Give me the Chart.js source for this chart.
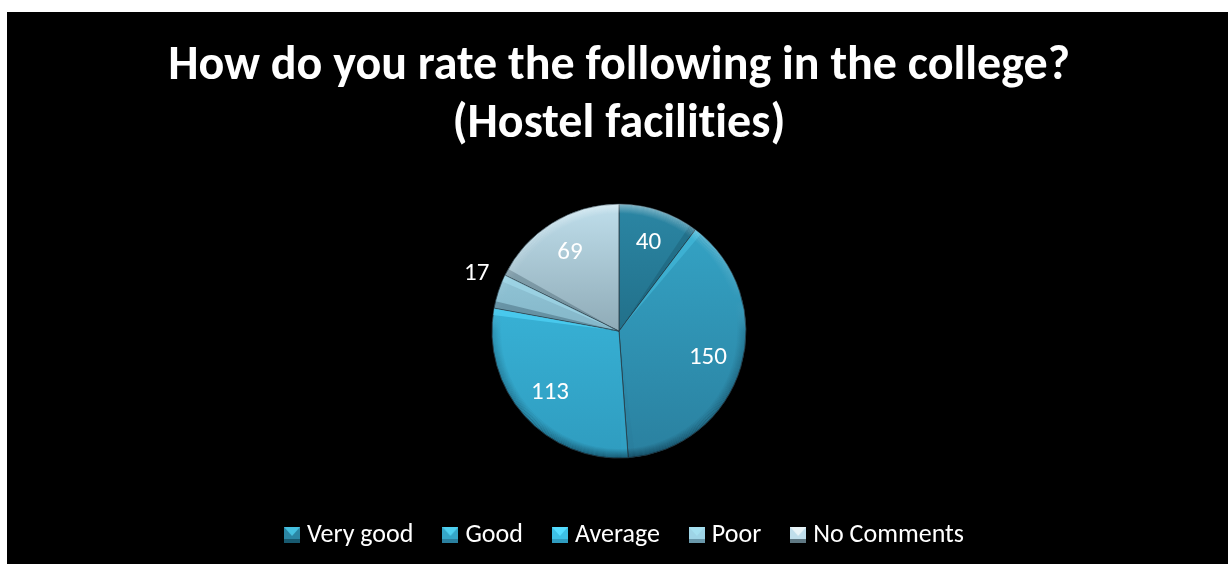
<!DOCTYPE html>
<html>
<head>
<meta charset="utf-8">
<script src="https://cdn.jsdelivr.net/npm/chart.js@4"></script>
<style>
  html, body { margin: 0; background: #fff; }
  #wrap { position: absolute; left: 7px; top: 12px; width: 1221px; height: 552px; background: #000; }
</style>
</head>
<body>
<div id="wrap"><canvas id="chart"></canvas></div>
<script>
const titleLines = ["How do you rate the following in the college?", "(Hostel facilities)"];
const categories = ["Very good", "Good", "Average", "Poor", "No Comments"];
const values = [40, 150, 113, 17, 69];
const topColors = ["#2b86a4", "#35a6c8", "#3dbfe4", "#9ed4e6", "#bfdeeb"];
const bottomColors = ["#185a70", "#2a809f", "#2f9cbf", "#6a98aa", "#5f7883"];
const legendLight = ["#45c0e0", "#4fd0f0", "#55dcff", "#a5e0f0", "#e8f4f8"];
const labelColor = "#ffffff";
const fontFamily = "Carlito, Lato, sans-serif";
const pieRadius = 127;

function sliceFill(context) {
  const area = context.chart.chartArea;
  if (!area) return topColors[context.dataIndex];
  const cy = (area.top + area.bottom) / 2;
  const g = context.chart.ctx.createLinearGradient(0, cy - pieRadius, 0, cy + pieRadius);
  g.addColorStop(0, topColors[context.dataIndex]);
  g.addColorStop(1, bottomColors[context.dataIndex]);
  return g;
}

// small bevelled square for the legend
function legendMarker(i) {
  const c = document.createElement("canvas");
  c.width = 16;
  c.height = 16;
  const x = c.getContext("2d");
  x.fillStyle = topColors[i];
  x.fillRect(0, 0, 16, 16);
  x.fillStyle = legendLight[i];
  x.beginPath();
  x.moveTo(0, 0);
  x.lineTo(16, 0);
  x.lineTo(8, 9);
  x.fill();
  x.fillStyle = bottomColors[i];
  x.fillRect(0, 12, 16, 4);
  return c;
}

function hexToRgb(hex) {
  return [1, 3, 5].map((s) => parseInt(hex.slice(s, s + 2), 16)).join(",");
}

function edgeWedge(ctx, p, angle, inward, i) {
  // light comes from above, so a bevel is lit when its outward normal points up
  const normal = angle - inward * Math.PI / 2;
  const lit = -Math.sin(normal);
  const spread = inward * 7 / p.outerRadius;
  ctx.fillStyle = lit > 0 ? `rgba(${hexToRgb(legendLight[i])},${0.6 * lit})` : `rgba(0,25,40,${-0.25 * lit})`;
  ctx.beginPath();
  ctx.moveTo(p.x, p.y);
  ctx.lineTo(p.x + Math.cos(angle) * p.outerRadius, p.y + Math.sin(angle) * p.outerRadius);
  ctx.lineTo(p.x + Math.cos(angle + spread) * p.outerRadius, p.y + Math.sin(angle + spread) * p.outerRadius);
  ctx.closePath();
  ctx.fill();
}

// bevel shading and slice numbers, drawn on top of the arcs
const pieExtras = {
  id: "pieExtras",
  afterLayout(chart) {
    // legend sits a little right of the pie centre and higher than the default
    chart.legend.left += 8;
    chart.legend.right += 8;
    chart.legend.top -= 6;
    chart.legend.bottom -= 6;
  },
  beforeDraw(chart) {
    // no "ti" ligature in the title
    chart.ctx.textRendering = "optimizeSpeed";
  },
  afterDatasetsDraw(chart) {
    const ctx = chart.ctx;
    const arcs = chart.getDatasetMeta(0).data;
    arcs.forEach((arc, i) => {
      const p = arc.getProps(["x", "y", "startAngle", "endAngle", "outerRadius"], true);
      ctx.save();
      ctx.beginPath();
      ctx.moveTo(p.x, p.y);
      ctx.arc(p.x, p.y, p.outerRadius, p.startAngle, p.endAngle);
      ctx.closePath();
      ctx.clip();
      edgeWedge(ctx, p, p.startAngle, 1, i);
      edgeWedge(ctx, p, p.endAngle, -1, i);
      ctx.restore();
    });

    const c = arcs[0].getProps(["x", "y", "outerRadius"], true);
    const band = 9;
    for (let k = 0; k < band; k++) {
      const a = 1 - k / band;
      const g = ctx.createLinearGradient(0, c.y - c.outerRadius, 0, c.y + c.outerRadius);
      g.addColorStop(0, `rgba(255,255,255,${0.42 * a})`);
      g.addColorStop(0.38, "rgba(255,255,255,0)");
      g.addColorStop(0.5, `rgba(0,25,40,${0.18 * a})`);
      g.addColorStop(1, `rgba(0,25,40,${0.5 * a})`);
      ctx.strokeStyle = g;
      ctx.lineWidth = 1;
      ctx.beginPath();
      ctx.arc(c.x, c.y, c.outerRadius - k - 0.5, 0, Math.PI * 2);
      ctx.stroke();
    }

    arcs.forEach((arc, i) => {
      const p = arc.getProps(["x", "y", "startAngle", "endAngle", "outerRadius"], true);
      const mid = (p.startAngle + p.endAngle) / 2;
      const outside = values[i] < 20;
      const r = outside ? p.outerRadius * 1.18 : p.outerRadius * 0.73;
      ctx.fillStyle = labelColor;
      ctx.font = `25px ${fontFamily}`;
      ctx.textAlign = "center";
      ctx.textBaseline = "middle";
      ctx.fillText(values[i], p.x + Math.cos(mid) * r, p.y + Math.sin(mid) * r - (outside ? 10 : 0));
    });
  },
};

new Chart(document.getElementById("chart"), {
  type: "pie",
  data: {
    labels: categories,
    datasets: [{
      data: values,
      backgroundColor: sliceFill,
      borderColor: "rgba(40,60,70,0.8)",
      borderWidth: 1,
      radius: pieRadius,
    }],
  },
  options: {
    responsive: true,
    maintainAspectRatio: false,
    animation: false,
    layout: { padding: { left: 3 } },
    plugins: {
      title: {
        display: true,
        text: titleLines,
        color: "#ffffff",
        font: { family: fontFamily, size: 48, weight: "bold", lineHeight: 1.21 },
        padding: { top: 26, bottom: 15 },
      },
      legend: {
        position: "bottom",
        labels: {
          color: "#ffffff",
          font: { family: fontFamily, size: 26 },
          usePointStyle: true,
          boxWidth: 4,
          padding: 35,
          generateLabels(chart) {
            return categories.map((name, i) => ({
              text: name,
              fontColor: "#ffffff",
              pointStyle: legendMarker(i),
              index: i,
              lineWidth: 0,
            }));
          },
        },
      },
      tooltip: { enabled: false },
    },
  },
  plugins: [pieExtras],
});
</script>
</body>
</html>
